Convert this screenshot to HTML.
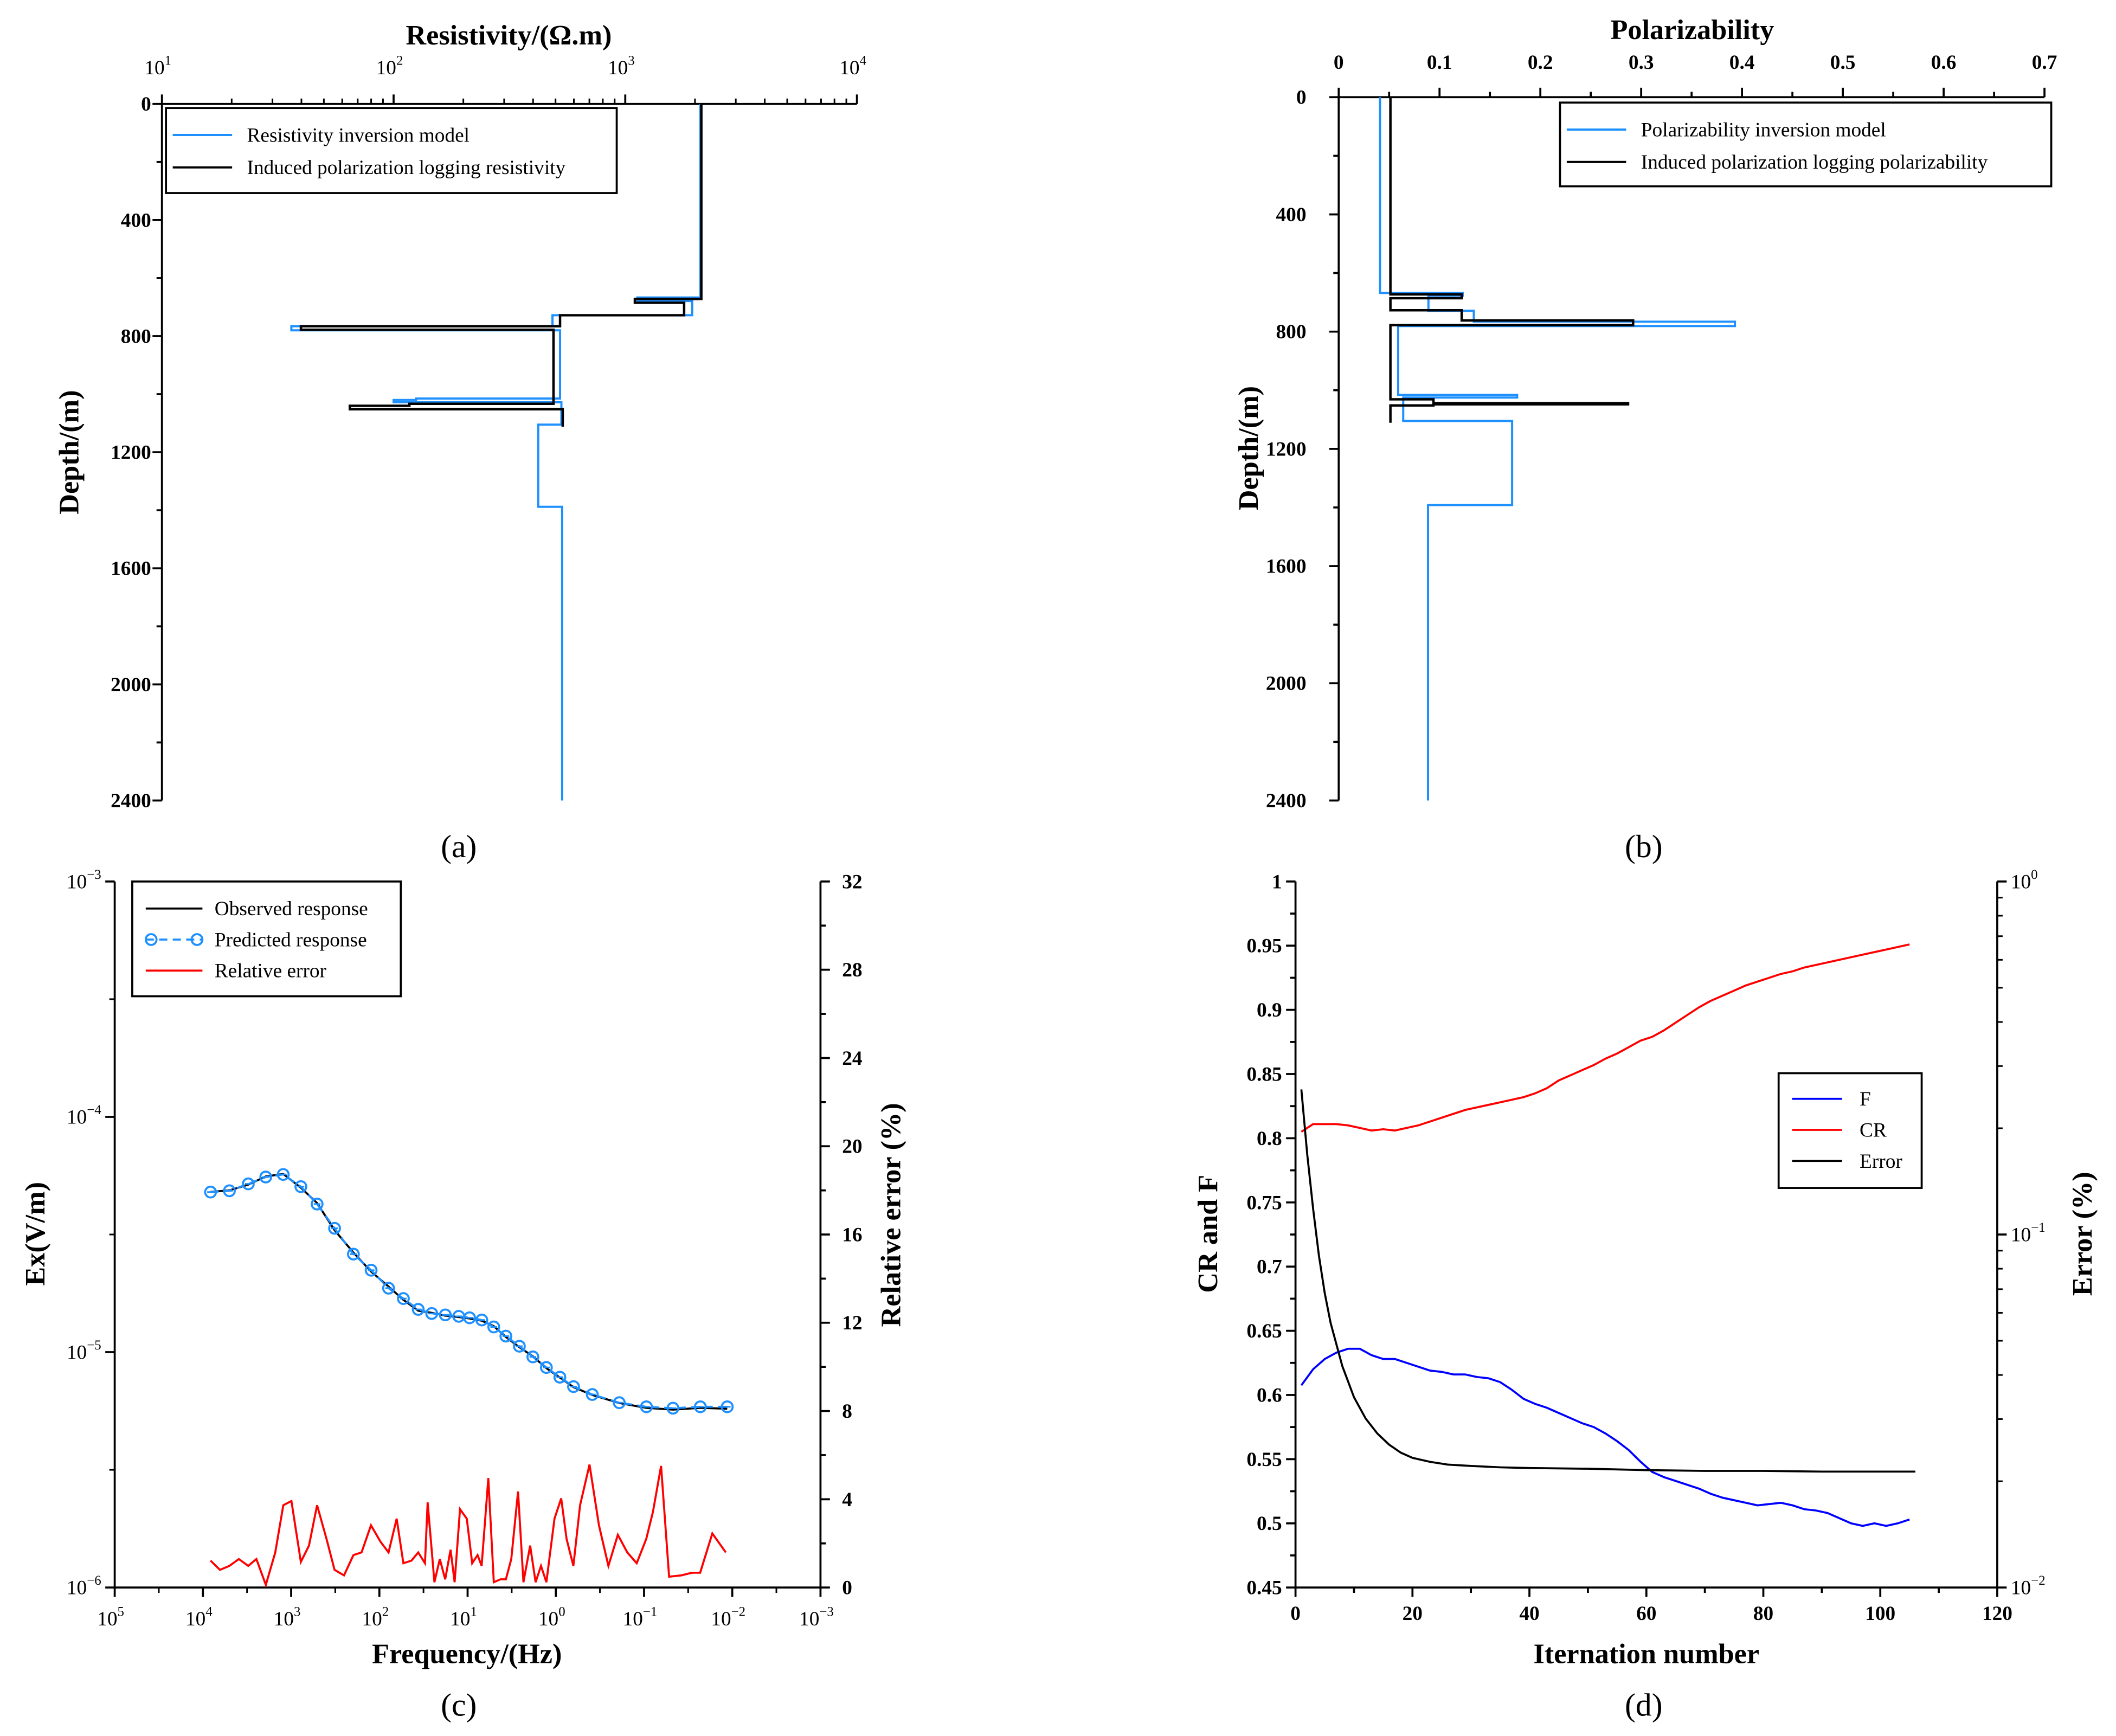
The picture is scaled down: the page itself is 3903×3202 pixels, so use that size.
<!DOCTYPE html>
<html><head><meta charset="utf-8"><style>
html,body{margin:0;padding:0;background:#fff;}
svg{display:block;font-family:"Liberation Serif",serif;}
</style></head><body>
<svg id="fig" xmlns="http://www.w3.org/2000/svg" width="3903" height="3202" viewBox="0 0 1568 1286" preserveAspectRatio="none">
<rect width="1568" height="1286" fill="#fff"/>
<g id="root"></g>
</svg>
<script>
// ---------- Panel (a) data: depth breakpoints (m) and resistivity (ohm.m) ----------
const resInvDepth = [0,667,667,679,679,728,728,766,766,780,780,1015,1015,1020,1020,1028,1028,1105,1105,1388,1388,2400];
const resInvVal   = [2110,2110,1127,1127,1945,1945,485,485,36.2,36.2,523,523,125,125,100,100,530,530,421,421,534,534];
const resLogDepth = [0,672,672,685,685,728,728,766,766,778,778,1033,1033,1040,1040,1052,1052,1112];
const resLogVal   = [2130,2130,1100,1100,1795,1795,523,523,39.8,39.8,490,490,117,117,64.7,64.7,537,537];
// ---------- Panel (b) data ----------
const polInvDepth = [0,668,668,677,677,729,729,766,766,781,781,1016,1016,1025,1025,1105,1105,1392,1392,2400];
const polInvVal   = [0.041,0.041,0.123,0.123,0.089,0.089,0.134,0.134,0.393,0.393,0.059,0.059,0.177,0.177,0.064,0.064,0.172,0.172,0.0886,0.0886];
const polLogDepth = [0,673,673,686,686,727,727,762,762,778,778,1031,1031,1044,1044,1048,1048,1052,1052,1111];
const polLogVal   = [0.0513,0.0513,0.122,0.122,0.0513,0.0513,0.122,0.122,0.292,0.292,0.0513,0.0513,0.094,0.094,0.287,0.287,0.094,0.094,0.0513,0.0513];
// ---------- Panel (c) data ----------
const freqHz = [8200,5010,3060,1940,1230,776,508,322,197,124,78.7,53.5,36.3,25.5,17.9,12.6,9.5,6.9,5.05,3.68,2.59,1.82,1.28,0.90,0.63,0.386,0.191,0.094,0.047,0.023,0.0114];
const predEx = [4.79e-5,4.85e-5,5.19e-5,5.55e-5,5.69e-5,5.05e-5,4.26e-5,3.36e-5,2.61e-5,2.23e-5,1.87e-5,1.69e-5,1.52e-5,1.46e-5,1.44e-5,1.42e-5,1.40e-5,1.37e-5,1.28e-5,1.17e-5,1.06e-5,9.55e-6,8.61e-6,7.83e-6,7.14e-6,6.61e-6,6.10e-6,5.86e-6,5.78e-6,5.86e-6,5.86e-6];
const obsEx  = [4.80e-5,4.87e-5,5.15e-5,5.58e-5,5.72e-5,5.00e-5,4.30e-5,3.30e-5,2.65e-5,2.20e-5,1.90e-5,1.67e-5,1.50e-5,1.47e-5,1.43e-5,1.41e-5,1.39e-5,1.36e-5,1.29e-5,1.16e-5,1.05e-5,9.60e-6,8.55e-6,7.80e-6,7.10e-6,6.58e-6,6.08e-6,5.80e-6,5.70e-6,5.80e-6,5.75e-6];
const errLogFreq = [3.914,3.807,3.700,3.593,3.486,3.394,3.287,3.180,3.089,2.997,2.890,2.798,2.706,2.599,2.508,2.401,2.294,2.202,2.095,1.988,1.896,1.804,1.728,1.636,1.560,1.483,1.453,1.376,1.315,1.254,1.193,1.147,1.086,1.009,0.948,0.887,0.841,0.765,0.703,0.627,0.566,0.505,0.428,0.367,0.291,0.229,0.168,0.107,0.015,-0.061,-0.122,-0.199,-0.275,-0.382,-0.489,-0.596,-0.703,-0.810,-0.917,-1.025,-1.101,-1.193,-1.284,-1.422,-1.544,-1.636,-1.774,-1.927];
const relErr = [1.22,0.80,0.98,1.29,0.98,1.29,0.12,1.59,3.73,3.92,1.16,1.90,3.73,2.20,0.80,0.55,1.47,1.59,2.82,2.08,1.59,3.12,1.10,1.22,1.59,1.10,3.86,0.24,1.29,0.37,1.71,0.24,3.55,3.12,1.10,1.47,0.98,4.96,0.24,0.37,0.37,1.29,4.35,0.24,1.90,0.24,0.98,0.24,3.12,4.04,2.20,0.98,3.73,5.57,2.82,0.98,2.39,1.59,1.10,2.20,3.43,5.51,0.49,0.55,0.67,0.67,2.45,1.59];
// ---------- Panel (d) data ----------
const iterCF = [1,3,5,7,9,11,13,15,17,19,21,23,25,27,29,31,33,35,37,39,41,43,45,47,49,51,53,55,57,59,61,63,65,67,69,71,73,75,77,79,81,83,85,87,89,91,93,95,97,99,101,103,105];
const crVals = [0.805,0.811,0.811,0.811,0.810,0.808,0.806,0.807,0.806,0.808,0.810,0.813,0.816,0.819,0.822,0.824,0.826,0.828,0.830,0.832,0.835,0.839,0.845,0.849,0.853,0.857,0.862,0.866,0.871,0.876,0.879,0.884,0.890,0.896,0.902,0.907,0.911,0.915,0.919,0.922,0.925,0.928,0.930,0.933,0.935,0.937,0.939,0.941,0.943,0.945,0.947,0.949,0.951];
const fVals  = [0.6075,0.620,0.628,0.633,0.636,0.636,0.631,0.628,0.628,0.625,0.622,0.619,0.618,0.616,0.616,0.614,0.613,0.610,0.604,0.597,0.593,0.590,0.586,0.582,0.578,0.575,0.570,0.564,0.557,0.548,0.540,0.536,0.533,0.530,0.527,0.523,0.520,0.518,0.516,0.514,0.515,0.516,0.514,0.511,0.510,0.508,0.504,0.500,0.498,0.500,0.498,0.500,0.503];
const iterErr = [1,2,3,4,5,6,8,10,12,14,16,18,20,23,26,30,35,40,50,60,70,80,90,100,106];
const errVals = [0.2576,0.1689,0.1187,0.0872,0.0682,0.0562,0.0424,0.0346,0.0301,0.0273,0.0254,0.0241,0.0233,0.0227,0.0223,0.0221,0.0219,0.0218,0.0217,0.0215,0.0214,0.0214,0.0213,0.0213,0.0213];

const NS="http://www.w3.org/2000/svg";
const root=document.getElementById('root');
function mk(tag,attrs,parent){const e=document.createElementNS(NS,tag);for(const k in attrs)e.setAttribute(k,attrs[k]);(parent||root).appendChild(e);return e;}
function line(x1,y1,x2,y2,w,p){return mk('line',{x1,y1,x2,y2,stroke:'#000','stroke-width':w||1.5},p);}
function txt(s,x,y,size,anchor,p,bold){const t=mk('text',{x,y,'font-size':size,'text-anchor':anchor||'middle',fill:'#000'},p);if(bold)t.setAttribute('font-weight','bold');t.textContent=s;return t;}
function pow(base,exp,x,y,anchor,p){const t=mk('text',{x,y,'font-size':15,'text-anchor':anchor||'middle',fill:'#000'},p);const a=mk('tspan',{},t);a.textContent=base;const b=mk('tspan',{'font-size':10,dy:-7},t);b.textContent=exp;return t;}
function poly(pts,color,w,p,dash){const e=mk('polyline',{points:pts.map(q=>q[0].toFixed(2)+','+q[1].toFixed(2)).join(' '),fill:'none',stroke:color,'stroke-width':w||1.5,'stroke-linejoin':'miter'},p);if(dash)e.setAttribute('stroke-dasharray',dash);return e;}
function grp(name){const g=mk('g',{});return g;}

// ================= Panel (a) =================
(function(){
const g=grp('panel-a-resistivity');
const X0=120,X1=635,Y0=77,Y1=593;
const xs=v=>X0+(Math.log10(v)-1)/3*(X1-X0);
const ys=d=>Y0+d/2400*(Y1-Y0);
line(X0,Y0,X1,Y0,1.5,g); line(X0,Y0,X0,Y1,1.5,g);
for(let e=1;e<=4;e++){line(xs(10**e),Y0,xs(10**e),Y0-7,1.5,g);pow('10',String(e),xs(10**e)-3,Y0-22,'middle',g);
 if(e<4)for(let m=2;m<10;m++)line(xs(m*10**e),Y0,xs(m*10**e),Y0-4,1.2,g);}
for(let d=0;d<=2400;d+=200){const maj=d%400===0;line(X0,ys(d),X0-(maj?7:4),ys(d),1.5,g);if(maj)txt(String(d),X0-8,ys(d)+5,15,'end',g,true);}
const tt=txt('Resistivity/(Ω.m)',377,33,21,'middle',g,true);
const yt=txt('Depth/(m)',0,0,21,'middle',g,true);yt.setAttribute('transform','translate(58,335) rotate(-90)');
const pb=poly(resInvDepth.map((d,i)=>[xs(resInvVal[i]),ys(d)]),'#1e90ff',1.6,g);

const pk=poly(resLogDepth.map((d,i)=>[xs(resLogVal[i]),ys(d)]),'#000',1.8,g);

const lg=mk('g',{},g);
mk('rect',{x:123,y:80,width:334,height:63,fill:'#fff',stroke:'#000','stroke-width':1.5},lg);
line(128,100,172,100,1.6,lg).setAttribute('stroke','#1e90ff');txt('Resistivity inversion model',183,105,15,'start',lg);
line(128,124,172,124,1.6,lg);txt('Induced polarization logging resistivity',183,129,15,'start',lg);
txt('(a)',340,635,24,'middle',g);
})();

// ================= Panel (b) =================
(function(){
const g=grp('panel-b-polarizability');
const X0=992,X1=1515,Y0=72,Y1=593;
const xs=v=>X0+v/0.7*(X1-X0);
const ys=d=>Y0+d/2400*(Y1-Y0);
line(X0,Y0,X1,Y0,1.5,g); line(X0,Y0,X0,Y1,1.5,g);
const xt=['0','0.1','0.2','0.3','0.4','0.5','0.6','0.7'];
for(let i=0;i<=14;i++){const v=i*0.05,maj=i%2===0;line(xs(v),Y0,xs(v),Y0-(maj?7:4),1.5,g);if(maj)txt(xt[i/2],xs(v),Y0-21,15,'middle',g,true);}
for(let d=0;d<=2400;d+=200){const maj=d%400===0;line(X0,ys(d),X0-(maj?7:4),ys(d),1.5,g);if(maj)txt(String(d),X0-24,ys(d)+5,15,'end',g,true);}
txt('Polarizability',1254,29,21,'middle',g,true);
const yt=txt('Depth/(m)',0,0,21,'middle',g,true);yt.setAttribute('transform','translate(932,332) rotate(-90)');
const pb=poly(polInvDepth.map((d,i)=>[xs(polInvVal[i]),ys(d)]),'#1e90ff',1.6,g);

const pk=poly(polLogDepth.map((d,i)=>[xs(polLogVal[i]),ys(d)]),'#000',1.8,g);

const lg=mk('g',{},g);
mk('rect',{x:1156,y:76,width:364,height:62,fill:'#fff',stroke:'#000','stroke-width':1.5},lg);
line(1161,96,1205,96,1.6,lg).setAttribute('stroke','#1e90ff');txt('Polarizability inversion model',1216,101,15,'start',lg);
line(1161,120,1205,120,1.6,lg);txt('Induced polarization logging  polarizability',1216,125,15,'start',lg);
txt('(b)',1218,635,24,'middle',g);
})();

// ================= Panel (c) =================
(function(){
const g=grp('panel-c-frequency-response');
const X0=85,X1=608,Y0=653,Y1=1176;
const xs=f=>X0+(5-Math.log10(f))/8*(X1-X0);
const xl=l=>X0+(5-l)/8*(X1-X0);
const ys=v=>Y0+(-3-Math.log10(v))/3*(Y1-Y0);
const yr=e=>Y1-e/32*(Y1-Y0);
line(X0,Y0,X0,Y1,1.5,g);line(X0,Y1,X1,Y1,1.5,g);line(X1,Y0,X1,Y1,1.5,g);
for(let e=5;e>=-3;e--){const x=xl(e);line(x,Y1,x,Y1+7,1.5,g);pow('10',String(e).replace('-','−'),x-3,Y1+28,'middle',g);if(e>-3)line(xl(e-0.5),Y1,xl(e-0.5),Y1+4,1.2,g);}
for(let e=-3;e>=-6;e--){const y=ys(10**e);line(X0,y,X0-7,y,1.5,g);pow('10',String(e).replace('-','−'),X0-10,y+5,'end',g);if(e>-6)line(X0,ys(10**(e-0.5)),X0-4,ys(10**(e-0.5)),1.2,g);}
for(let v=0;v<=32;v+=2){const maj=v%4===0;line(X1,yr(v),X1+(maj?7:4),yr(v),1.5,g);if(maj)txt(String(v),X1+16,yr(v)+5,15,'start',g,true);}
txt('Frequency/(Hz)',346,1232,21,'middle',g,true);
const y1=txt('Ex(V/m)',0,0,21,'middle',g,true);y1.setAttribute('transform','translate(33,914) rotate(-90)');
const y2=txt('Relative error (%)',0,0,21,'middle',g,true);y2.setAttribute('transform','translate(667,900) rotate(-90)');
const ob=poly(freqHz.map((f,i)=>[xs(f),ys(obsEx[i])]),'#000',1.5,g);

const pr=poly(freqHz.map((f,i)=>[xs(f),ys(predEx[i])]),'#1e90ff',1.5,g,'6,4');

freqHz.forEach((f,i)=>{const c=mk('circle',{cx:xs(f),cy:ys(predEx[i]),r:4,fill:'none',stroke:'#1e90ff','stroke-width':1.5},g);


mk('line',{x1:xs(f)-2.5,y1:ys(predEx[i]),x2:xs(f)+2.5,y2:ys(predEx[i]),stroke:'#1e90ff','stroke-width':1.2},g);});
const er=poly(errLogFreq.map((l,i)=>[xl(l),yr(relErr[i])]),'#ff0000',1.5,g);

const lg=mk('g',{},g);
mk('rect',{x:98,y:653,width:199,height:85,fill:'#fff',stroke:'#000','stroke-width':1.5},lg);
line(108,673,150,673,1.5,lg);txt('Observed response',159,678,15,'start',lg);
mk('line',{x1:108,y1:696,x2:150,y2:696,stroke:'#1e90ff','stroke-width':1.5,'stroke-dasharray':'6,4'},lg);
mk('circle',{cx:112,cy:696,r:4,fill:'none',stroke:'#1e90ff','stroke-width':1.5},lg);mk('circle',{cx:146,cy:696,r:4,fill:'none',stroke:'#1e90ff','stroke-width':1.5},lg);
txt('Predicted response',159,701,15,'start',lg);
line(108,719,150,719,1.5,lg).setAttribute('stroke','#ff0000');txt('Relative error',159,724,15,'start',lg);
txt('(c)',340,1271,24,'middle',g);
})();

// ================= Panel (d) =================
(function(){
const g=grp('panel-d-iteration');
const X0=960,X1=1480,Y0=653,Y1=1176;
const xs=i=>X0+i/120*(X1-X0);
const ys=v=>Y0+(1-v)/0.55*(Y1-Y0);
const yr=v=>Y1-(Math.log10(v)+2)/2*(Y1-Y0);
line(X0,Y0,X0,Y1,1.5,g);line(X0,Y1,X1,Y1,1.5,g);line(X1,Y0,X1,Y1,1.5,g);
for(let i=0;i<=120;i+=10){const maj=i%20===0;line(xs(i),Y1,xs(i),Y1+(maj?7:4),1.5,g);if(maj)txt(String(i),xs(i),Y1+24,15,'middle',g,true);}
const yl=['0.45','0.5','0.55','0.6','0.65','0.7','0.75','0.8','0.85','0.9','0.95','1'];
for(let k=0;k<=22;k++){const v=0.45+k*0.025,maj=k%2===0;line(X0,ys(v),X0-(maj?7:4),ys(v),1.5,g);if(maj)txt(yl[k/2],X0-10,ys(v)+5,15,'end',g,true);}
for(let e=-2;e<=0;e++){line(X1,yr(10**e),X1+7,yr(10**e),1.5,g);pow('10',String(e).replace('-','−'),X1+10,yr(10**e)+5,'start',g);
 if(e<0)for(let m=2;m<10;m++)line(X1,yr(m*10**e),X1+4,yr(m*10**e),1.2,g);}
txt('Iternation number',1220,1232,21,'middle',g,true);
const y1=txt('CR and F',0,0,21,'middle',g,true);y1.setAttribute('transform','translate(902,914) rotate(-90)');
const y2=txt('Error (%)',0,0,21,'middle',g,true);y2.setAttribute('transform','translate(1550,914) rotate(-90)');
const cr=poly(iterCF.map((i,k)=>[xs(i),ys(crVals[k])]),'#ff0000',1.5,g);

const f=poly(iterCF.map((i,k)=>[xs(i),ys(fVals[k])]),'#0000ff',1.5,g);

const er=poly(iterErr.map((i,k)=>[xs(i),yr(errVals[k])]),'#000',1.5,g);

const lg=mk('g',{},g);
mk('rect',{x:1318,y:795,width:106,height:85,fill:'#fff',stroke:'#000','stroke-width':1.5},lg);
line(1328,814,1365,814,1.5,lg).setAttribute('stroke','#0000ff');txt('F',1378,819,15,'start',lg);
line(1328,837,1365,837,1.5,lg).setAttribute('stroke','#ff0000');txt('CR',1378,842,15,'start',lg);
line(1328,860,1365,860,1.5,lg);txt('Error',1378,865,15,'start',lg);
txt('(d)',1218,1271,24,'middle',g);
})();
</script>
</body></html>
